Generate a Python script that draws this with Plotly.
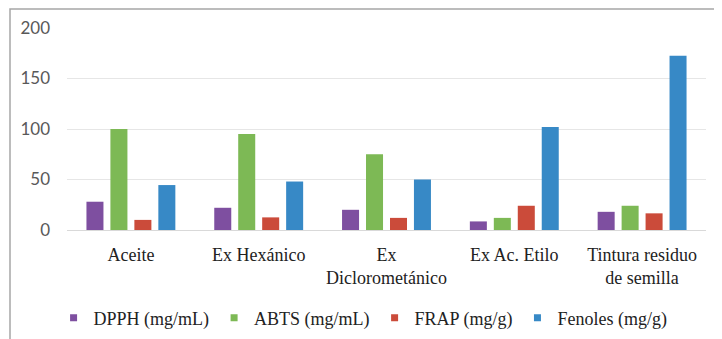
import plotly.graph_objects as go

categories = ["Aceite", "Ex Hexánico", "Ex<br>Diclorometánico", "Ex Ac. Etilo", "Tintura residuo<br>de semilla"]
series_names = ["DPPH (mg/mL)", "ABTS (mg/mL)", "FRAP (mg/g)", "Fenoles (mg/g)"]
dpph = [28, 22, 20, 8.5, 18]
abts = [100, 95, 75, 12, 24]
frap = [10, 12.5, 12, 24, 16.5]
fenoles = [44.5, 48, 50, 102, 172.5]
y_ticks = [0, 50, 100, 150, 200]

colors = ["#7E4FA0", "#7DB955", "#CB4B3A", "#3789C6"]
values = [dpph, abts, frap, fenoles]

fig = go.Figure()
for name, vals, col in zip(series_names, values, colors):
    fig.add_trace(go.Bar(x=categories, y=vals, name=name, marker=dict(color=col, line=dict(width=0)),
                         showlegend=False))
for name, col in zip(series_names, colors):
    fig.add_trace(go.Scatter(x=[None], y=[None], mode="markers", name=name,
                             marker=dict(symbol="square", size=7, color=col)))

fig.update_layout(
    width=714, height=331,
    margin=dict(l=59, r=16, t=20, b=109, autoexpand=False),
    paper_bgcolor="white", plot_bgcolor="white",
    barmode="group", bargap=0.25, bargroupgap=0.29,
    showlegend=True,
    legend=dict(orientation="h", x=-0.021, xanchor="left", y=-0.4356, yanchor="middle",
                font=dict(family="Liberation Serif", size=18, color="#222222"),
                itemwidth=30, tracegroupgap=0, bgcolor="rgba(0,0,0,0)"),
    xaxis=dict(showgrid=False, showline=False, ticks="", zeroline=False, automargin=False,
               ticklabelstandoff=12,
               tickfont=dict(family="Liberation Serif", size=18, color="#222222")),
    yaxis=dict(range=[0, 200], tickvals=y_ticks, showgrid=True, gridcolor="#E6E6E6", gridwidth=1,
               zeroline=True, zerolinecolor="#D9D9D9", zerolinewidth=1, showline=False, ticks="",
               ticklabelstandoff=16, automargin=False,
               tickfont=dict(family="Lato", size=17, color="#595959")),
    shapes=[dict(type="rect", xref="paper", yref="paper",
                 x0=(2 - 59) / 639, x1=1.2, y0=-1.0, y1=1 + (20 - 1) / 202,
                 line=dict(color="#A6A6A6", width=1.5), layer="below")],
)

fig.write_html("out.html")
